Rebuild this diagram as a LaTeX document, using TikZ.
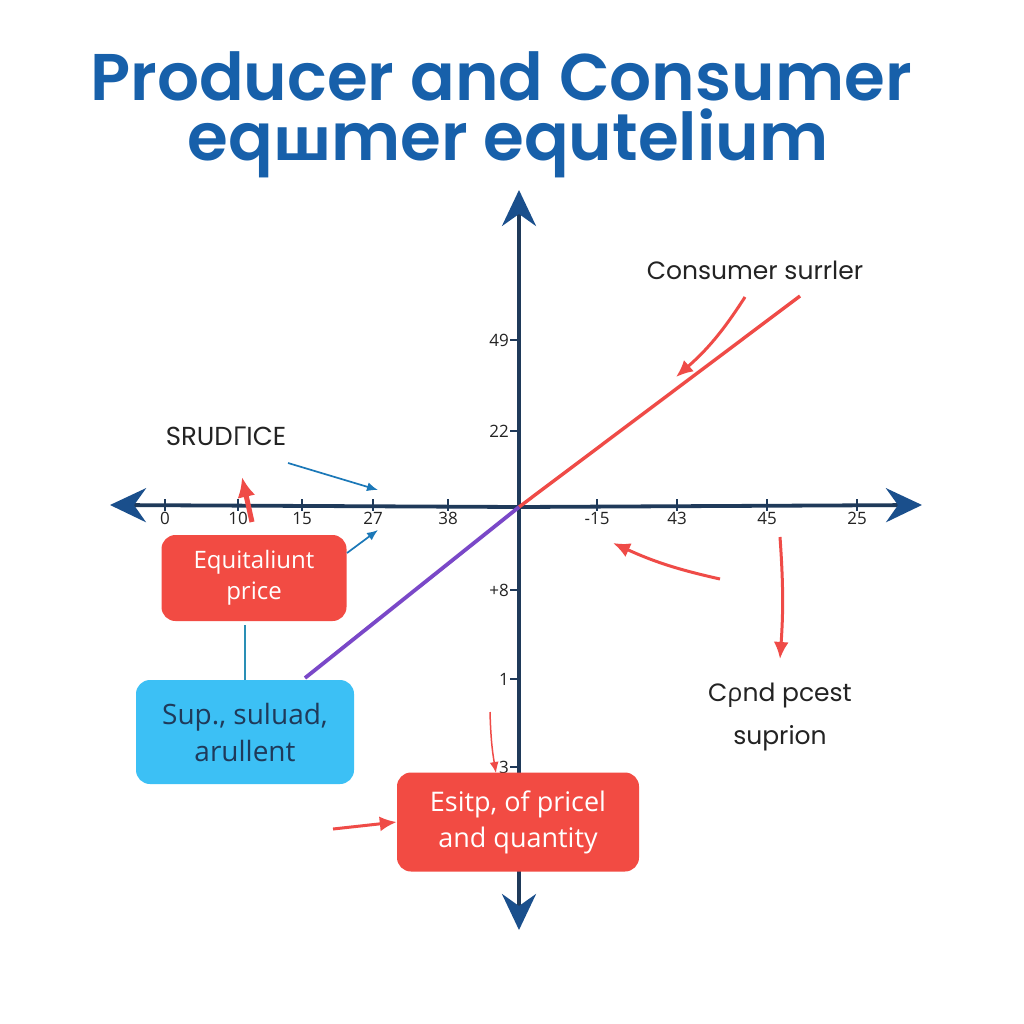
\documentclass[tikz,border=0pt]{standalone}
\usepackage{fontspec}
\setmainfont{Open Sans}
\newfontfamily\titlefont{Poppins SemiBold}
\newfontfamily\notefont{Poppins}
\newfontfamily\cyrfont{Open Sans}
\usetikzlibrary{arrows.meta,positioning,calc}

\definecolor{titleblue}{HTML}{1760AA}
\definecolor{axisnavy}{HTML}{1F3A5A}
\definecolor{axisblue}{HTML}{1A4F8C}
\definecolor{linered}{HTML}{EF4B47}
\definecolor{boxred}{HTML}{F24B43}
\definecolor{boxblue}{HTML}{3CC0F5}
\definecolor{supplyviolet}{HTML}{7A48C8}
\definecolor{pointerblue}{HTML}{1B78B8}
\definecolor{linkteal}{HTML}{2A8FB5}
\definecolor{inkgray}{HTML}{232323}

\begin{document}
\begin{tikzpicture}[
    x=1pt, y=-1pt,
    %–––– GLOBAL STYLE TWEAKS ––––
    titleline/.style = {text=titleblue, inner sep=0pt, anchor=base,
                        font=\titlefont\fontsize{66}{66}\selectfont},
    axis/.style   = {draw=axisnavy, line width=3.8pt,
                     -{Stealth[length=36pt,width=34pt,inset=12pt,color=axisblue]}},
    tickmark/.style = {draw=axisnavy, line width=1.6pt},
    ticklbl/.style  = {font=\fontsize{17}{17}\selectfont, text=inkgray, inner sep=1pt},
    note/.style   = {font=\notefont\fontsize{25}{30}\selectfont, text=inkgray, align=center},
    box/.style    = {rectangle, rounded corners=14pt, align=center, inner sep=0pt},
    redbox/.style = {box, fill=boxred, text=white},
    bluebox/.style= {box, fill=boxblue, text=axisnavy},
    redarrow/.style  = {-{Latex[length=17pt,width=15pt]}, draw=linered, line width=3pt},
    thinred/.style   = {-{Latex[length=11pt,width=9pt]}, draw=linered, line width=1.5pt},
    bluearrow/.style = {-{Latex[length=11pt,width=9pt]}, draw=pointerblue, line width=1.7pt},
]
\fill[white] (0,0) rectangle (1024,1024);
\useasboundingbox (0,0) rectangle (1024,1024);

%–––– TITLE ––––
\node[titleline] (title1) at (501,101) {Producer and Consumer};
\node[titleline] (title2) at (508,161)
      {eq{\cyrfont\bfseries\fontsize{60}{60}\selectfont ш}mer equtelium};

%–––– AXES ––––
\coordinate (O)  at (519,507);
\coordinate (xl) at (110,505);
\coordinate (xr) at (922,505);
\coordinate (yt) at (519,190);
\coordinate (yb) at (519,930);
\draw[axis] (O) -- (xl);
\draw[axis] (O) -- (xr);
\draw[axis] (O) -- (yt);
\draw[axis] (O) -- (yb);

% x ticks
\foreach \x/\lbl in {165/0, 238/10, 302/15, 373/27, 448/38,
                      597/-15, 677/43, 767/45, 857/25}{
  \draw[tickmark] (\x,499) -- (\x,511);
  \node[ticklbl, anchor=north] (xt\x) at (\x,511) {\lbl};
}
% y ticks
\foreach \y/\lbl in {340/49, 431/22, 590/{+8}, 679/1, 767/3}{
  \draw[tickmark] (510,\y) -- (519,\y);
  \node[ticklbl, anchor=east] (yt\y) at (510,\y) {\lbl};
}

%–––– CURVES ––––
\coordinate (demandtop) at (800,296);
\coordinate (supplyend) at (305,678);
\draw[draw=linered, line width=3.4pt] (O) -- (demandtop);
\draw[draw=supplyviolet, line width=3.8pt] (O) -- (supplyend);

%–––– TEXT LABELS ––––
\node[note] (consumer) at (755,270) {Consumer surrler};
\node[note, font=\notefont\fontsize{26}{30}\selectfont] (srudrice) at (226,436) {SRUD{\cyrfont Γ}ICE};
\node[note, font=\notefont\fontsize{25}{43}\selectfont] (condsup) at (780,717)
     {C{\cyrfont ρ}nd pcest\\suprion};

%–––– BOXES ––––
\node[redbox, minimum width=185pt, minimum height=86pt,
      font=\fontsize{24}{31}\selectfont] (eqprice) at (254,578) {Equitaliunt\\price};
\node[bluebox, minimum width=218pt, minimum height=104pt,
      font=\fontsize{28}{37}\selectfont] (supbox) at (245,732) {Sup., suluad,\\arullent};
\node[redbox, minimum width=242pt, minimum height=99pt,
      font=\fontsize{27}{36}\selectfont] (estbox) at (518,822) {Esitp, of pricel\\and quantity};

\draw[draw=linkteal, line width=1.5pt] (eqprice.south -| supbox.north) ++(0,4) -- (supbox.north);

%–––– POINTERS ––––
\coordinate (c1s) at (745,297);  \coordinate (c1e) at (676,377);
\coordinate (c2s) at (720,579);  \coordinate (c2e) at (613,543);
\coordinate (c3s) at (780,537);  \coordinate (c3e) at (780,659);
\coordinate (c4s) at (490,712);  \coordinate (c4e) at (496,773);
\coordinate (c5s) at (333,829);
\coordinate (b1s) at (288,463);  \coordinate (b1e) at (378,490);
\coordinate (b2s) at (347,553);  \coordinate (b2e) at (378,530);
\coordinate (upS) at (252,522);  \coordinate (upE) at (242,477);

\draw[redarrow] (c1s) to[bend left=8] (c1e);
\draw[redarrow] (c2s) to[bend left=6] (c2e);
\draw[redarrow] (c3s) to[bend left=4] (c3e);
\draw[thinred] (c4s) to[bend right=4] (c4e);
\draw[redarrow] (c5s) -- (estbox.west);
\draw[redarrow, line width=5pt, -{Latex[length=20pt,width=18pt]}] (upS) -- (upE);
\foreach \a/\b in {b1s/b1e, b2s/b2e}
  \draw[bluearrow] (\a) -- (\b);
\end{tikzpicture}
\end{document}
